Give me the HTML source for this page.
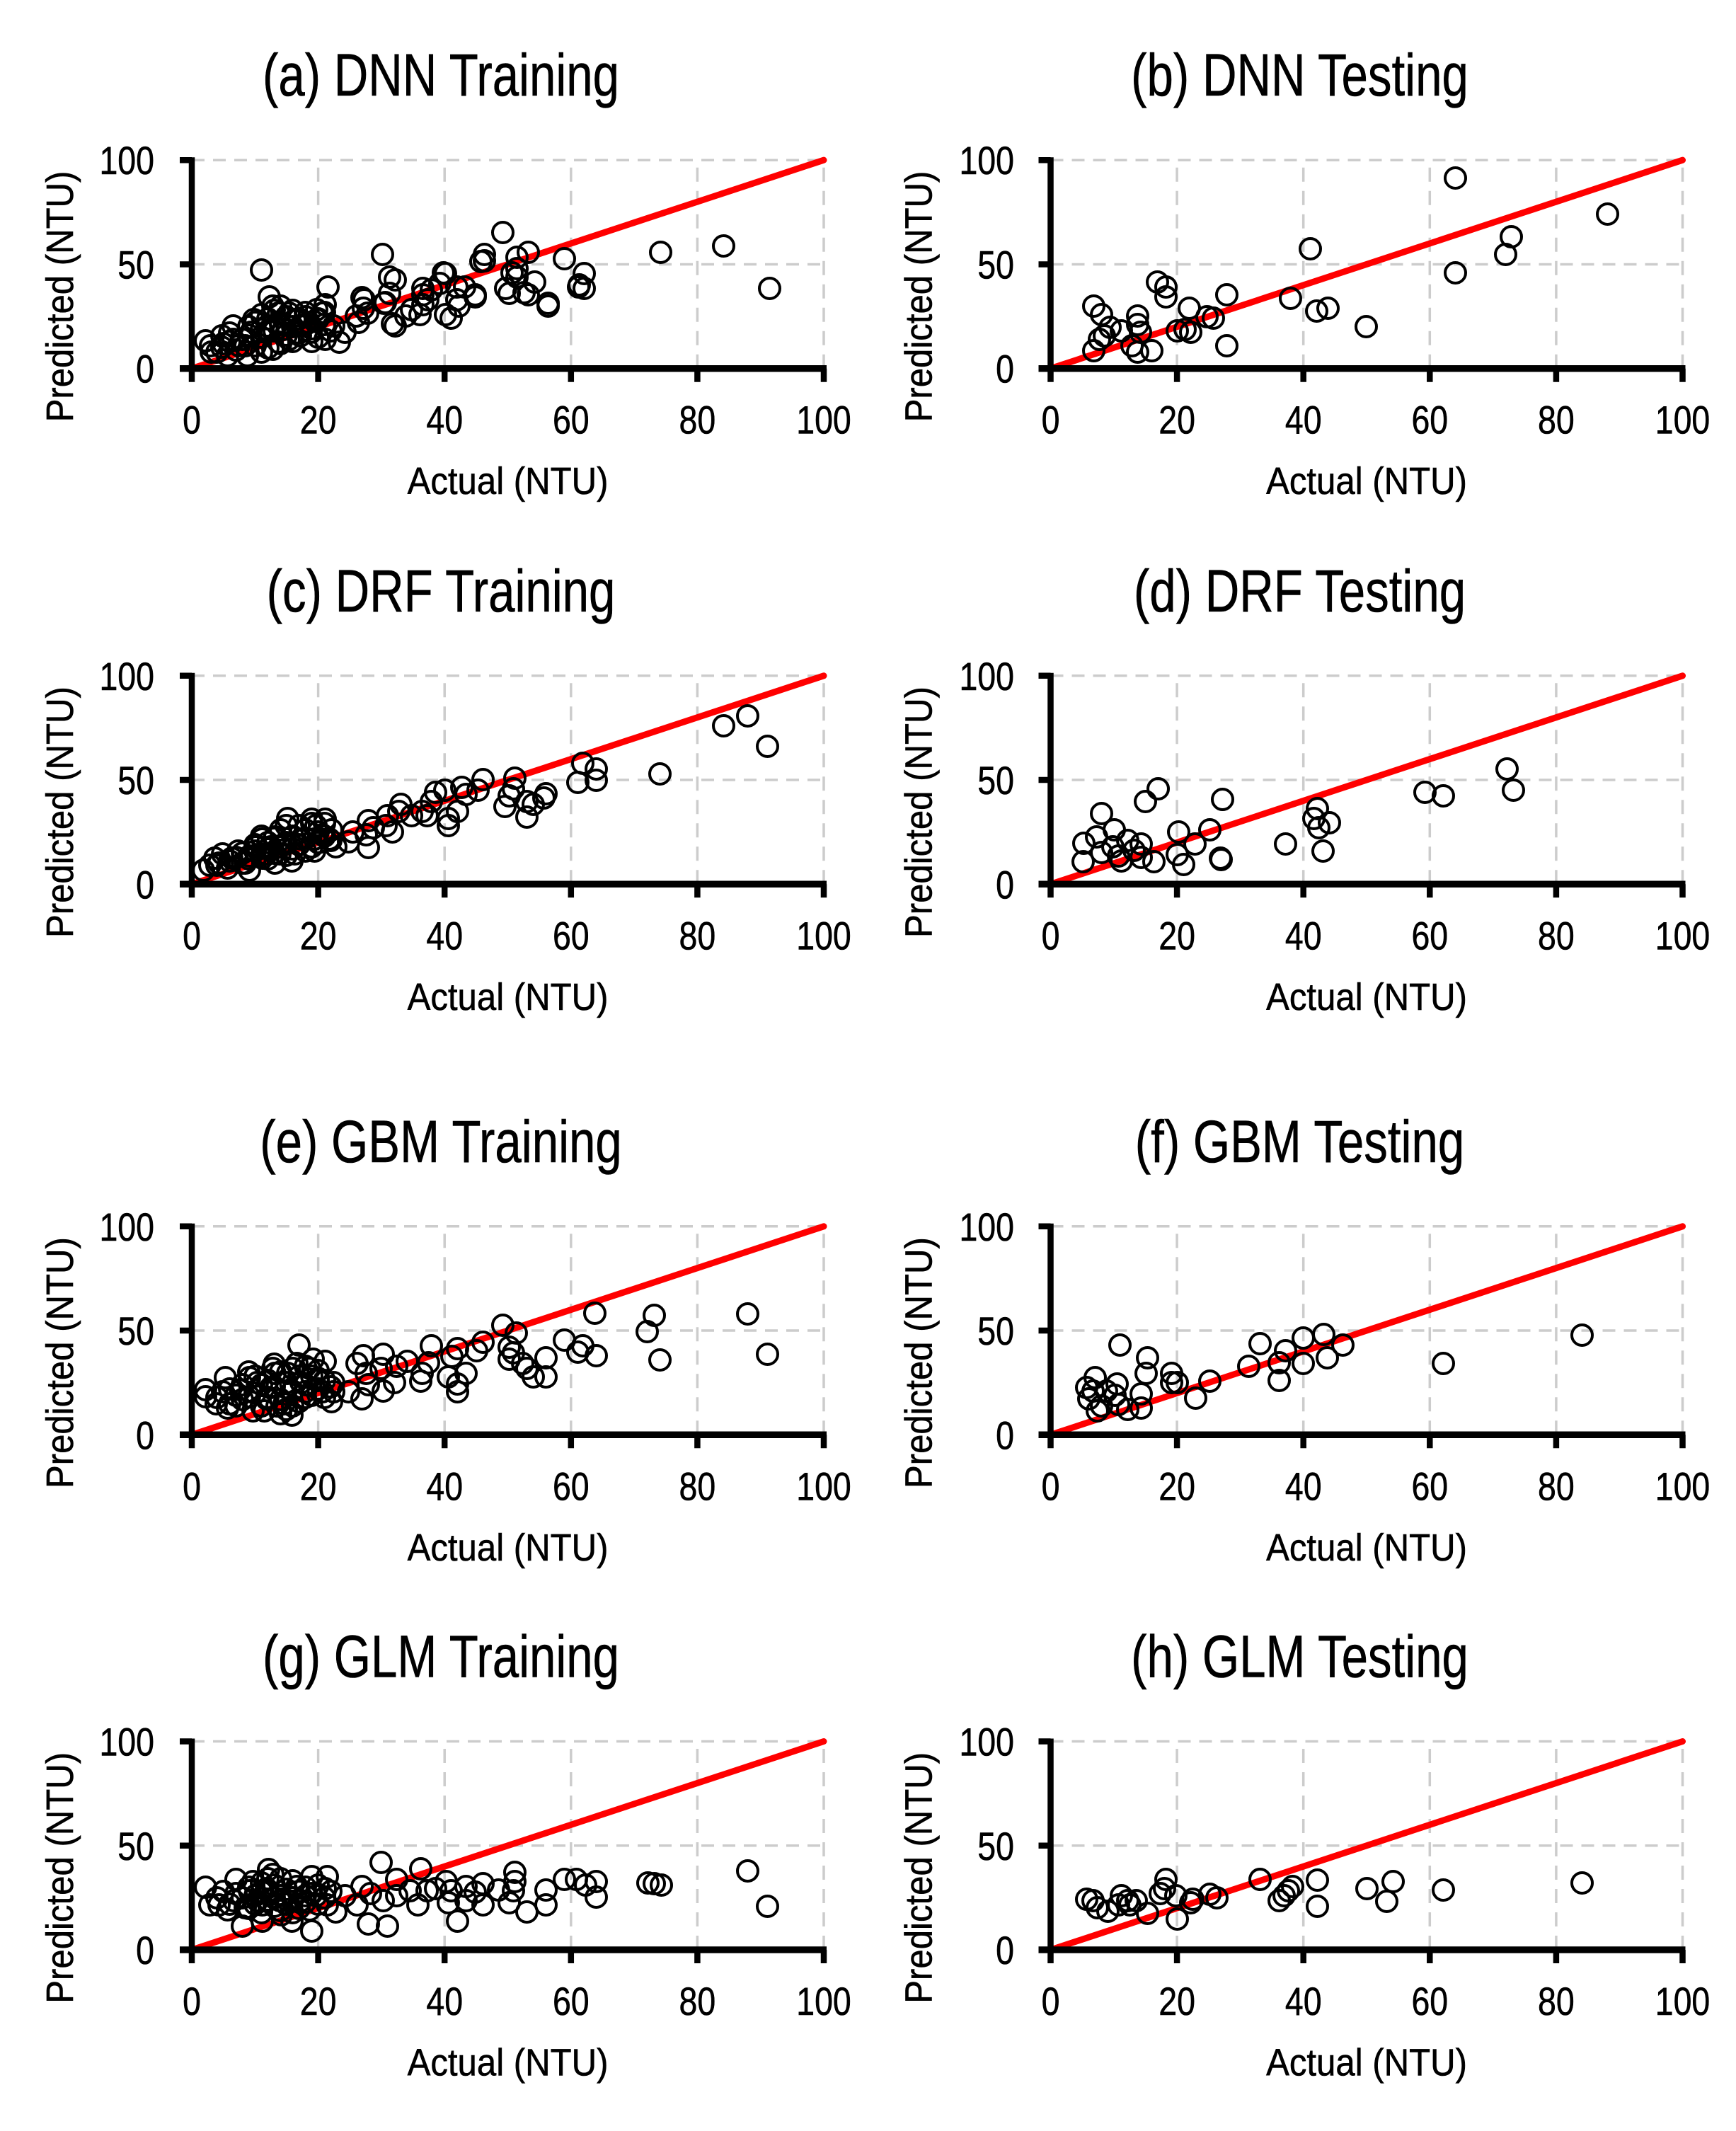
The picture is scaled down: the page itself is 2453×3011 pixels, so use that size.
<!DOCTYPE html>
<html><head><meta charset="utf-8">
<style>
html,body{margin:0;padding:0;background:#fff}
#c{position:relative;width:2453px;height:3011px;overflow:hidden;background:#fff}
svg{position:absolute;left:0;top:0}
text{font-family:"Liberation Sans",Arial,sans-serif;fill:#000;stroke:#000;stroke-width:0.6px}
.tk{font-size:56px}
.ti{font-size:84px}
.lb{font-size:54px}
.p{position:absolute;width:0;height:0}
.p i{position:absolute;display:block;width:33px;height:33px;box-sizing:border-box;border:4.5px solid #000;border-radius:50%;left:calc(var(--x)*8.93px - 16.5px);top:calc(var(--y)*-2.945px - 16.5px)}
</style></head><body><div id="c">
<svg width="2453" height="3011" xmlns="http://www.w3.org/2000/svg">
<defs><g id="ax">
<path d="M0 -294.5H893M0 -147.25H893" stroke="#cccccc" stroke-width="3.5" stroke-dasharray="18 12" fill="none"/>
<path d="M178.6 0V-294.5M357.2 0V-294.5M535.8 0V-294.5M714.4 0V-294.5M893 0V-294.5" stroke="#cccccc" stroke-width="3.5" stroke-dasharray="20 13" fill="none"/>
<path d="M0 0L893 -294.5" stroke="#ff0000" stroke-width="9" stroke-linecap="round"/>
<path d="M0 -298.5V0" stroke="#000" stroke-width="8.5"/>
<path d="M-17 0H897" stroke="#000" stroke-width="9.5"/>
<path d="M-17 -294.5H0M-17 -147.25H0" stroke="#000" stroke-width="8.5"/>
<path d="M0 0V19M178.6 0V19M357.2 0V19M535.8 0V19M714.4 0V19M893 0V19" stroke="#000" stroke-width="8.5"/>
</g></defs>
<use href="#ax" transform="translate(271 520.7)"/>
<use href="#ax" transform="translate(1484.5 520.7)"/>
<use href="#ax" transform="translate(271 1249.3)"/>
<use href="#ax" transform="translate(1484.5 1249.3)"/>
<use href="#ax" transform="translate(271 2027.3)"/>
<use href="#ax" transform="translate(1484.5 2027.3)"/>
<use href="#ax" transform="translate(271 2755)"/>
<use href="#ax" transform="translate(1484.5 2755)"/>

<!-- Titles -->
<text class="ti" text-anchor="middle" transform="translate(623 135.2) scale(.8 1)">(a) DNN Training</text>
<text class="ti" text-anchor="middle" transform="translate(1836.5 135.2) scale(.8 1)">(b) DNN Testing</text>
<text class="ti" text-anchor="middle" transform="translate(623 863.8) scale(.8 1)">(c) DRF Training</text>
<text class="ti" text-anchor="middle" transform="translate(1836.5 863.8) scale(.8 1)">(d) DRF Testing</text>
<text class="ti" text-anchor="middle" transform="translate(623 1641.8) scale(.8 1)">(e) GBM Training</text>
<text class="ti" text-anchor="middle" transform="translate(1836.5 1641.8) scale(.8 1)">(f) GBM Testing</text>
<text class="ti" text-anchor="middle" transform="translate(623 2369.5) scale(.8 1)">(g) GLM Training</text>
<text class="ti" text-anchor="middle" transform="translate(1836.5 2369.5) scale(.8 1)">(h) GLM Testing</text>

<!-- Row 1 -->
<text class="tk" text-anchor="end" transform="translate(218 246.2) scale(.83 1)">100</text>
<text class="tk" text-anchor="end" transform="translate(218 393.5) scale(.83 1)">50</text>
<text class="tk" text-anchor="end" transform="translate(218 540.7) scale(.83 1)">0</text>
<text class="tk" text-anchor="end" transform="translate(1433 246.2) scale(.83 1)">100</text>
<text class="tk" text-anchor="end" transform="translate(1433 393.5) scale(.83 1)">50</text>
<text class="tk" text-anchor="end" transform="translate(1433 540.7) scale(.83 1)">0</text>
<g class="tk" text-anchor="middle">
<text transform="translate(271 612.7) scale(.83 1)">0</text>
<text transform="translate(449.6 612.7) scale(.83 1)">20</text>
<text transform="translate(628.2 612.7) scale(.83 1)">40</text>
<text transform="translate(806.8 612.7) scale(.83 1)">60</text>
<text transform="translate(985.4 612.7) scale(.83 1)">80</text>
<text transform="translate(1164 612.7) scale(.83 1)">100</text>
<text transform="translate(1484.5 612.7) scale(.83 1)">0</text>
<text transform="translate(1663.1 612.7) scale(.83 1)">20</text>
<text transform="translate(1841.7 612.7) scale(.83 1)">40</text>
<text transform="translate(2020.3 612.7) scale(.83 1)">60</text>
<text transform="translate(2198.9 612.7) scale(.83 1)">80</text>
<text transform="translate(2377.5 612.7) scale(.83 1)">100</text>
</g>
<text class="lb" text-anchor="middle" transform="translate(717.5 698.2) scale(.91 1)">Actual (NTU)</text>
<text class="lb" text-anchor="middle" transform="translate(1931 698.2) scale(.91 1)">Actual (NTU)</text>
<text class="lb" text-anchor="middle" transform="translate(103 419) rotate(-90) scale(.91 1)">Predicted (NTU)</text>
<text class="lb" text-anchor="middle" transform="translate(1316.5 419) rotate(-90) scale(.91 1)">Predicted (NTU)</text>

<!-- Row 2 -->
<text class="tk" text-anchor="end" transform="translate(218 974.8) scale(.83 1)">100</text>
<text class="tk" text-anchor="end" transform="translate(218 1122.1) scale(.83 1)">50</text>
<text class="tk" text-anchor="end" transform="translate(218 1269.3) scale(.83 1)">0</text>
<text class="tk" text-anchor="end" transform="translate(1433 974.8) scale(.83 1)">100</text>
<text class="tk" text-anchor="end" transform="translate(1433 1122.1) scale(.83 1)">50</text>
<text class="tk" text-anchor="end" transform="translate(1433 1269.3) scale(.83 1)">0</text>
<g class="tk" text-anchor="middle">
<text transform="translate(271 1341.3) scale(.83 1)">0</text>
<text transform="translate(449.6 1341.3) scale(.83 1)">20</text>
<text transform="translate(628.2 1341.3) scale(.83 1)">40</text>
<text transform="translate(806.8 1341.3) scale(.83 1)">60</text>
<text transform="translate(985.4 1341.3) scale(.83 1)">80</text>
<text transform="translate(1164 1341.3) scale(.83 1)">100</text>
<text transform="translate(1484.5 1341.3) scale(.83 1)">0</text>
<text transform="translate(1663.1 1341.3) scale(.83 1)">20</text>
<text transform="translate(1841.7 1341.3) scale(.83 1)">40</text>
<text transform="translate(2020.3 1341.3) scale(.83 1)">60</text>
<text transform="translate(2198.9 1341.3) scale(.83 1)">80</text>
<text transform="translate(2377.5 1341.3) scale(.83 1)">100</text>
</g>
<text class="lb" text-anchor="middle" transform="translate(717.5 1426.8) scale(.91 1)">Actual (NTU)</text>
<text class="lb" text-anchor="middle" transform="translate(1931 1426.8) scale(.91 1)">Actual (NTU)</text>
<text class="lb" text-anchor="middle" transform="translate(103 1147.6) rotate(-90) scale(.91 1)">Predicted (NTU)</text>
<text class="lb" text-anchor="middle" transform="translate(1316.5 1147.6) rotate(-90) scale(.91 1)">Predicted (NTU)</text>

<!-- Row 3 -->
<text class="tk" text-anchor="end" transform="translate(218 1752.8) scale(.83 1)">100</text>
<text class="tk" text-anchor="end" transform="translate(218 1900.1) scale(.83 1)">50</text>
<text class="tk" text-anchor="end" transform="translate(218 2047.3) scale(.83 1)">0</text>
<text class="tk" text-anchor="end" transform="translate(1433 1752.8) scale(.83 1)">100</text>
<text class="tk" text-anchor="end" transform="translate(1433 1900.1) scale(.83 1)">50</text>
<text class="tk" text-anchor="end" transform="translate(1433 2047.3) scale(.83 1)">0</text>
<g class="tk" text-anchor="middle">
<text transform="translate(271 2119.3) scale(.83 1)">0</text>
<text transform="translate(449.6 2119.3) scale(.83 1)">20</text>
<text transform="translate(628.2 2119.3) scale(.83 1)">40</text>
<text transform="translate(806.8 2119.3) scale(.83 1)">60</text>
<text transform="translate(985.4 2119.3) scale(.83 1)">80</text>
<text transform="translate(1164 2119.3) scale(.83 1)">100</text>
<text transform="translate(1484.5 2119.3) scale(.83 1)">0</text>
<text transform="translate(1663.1 2119.3) scale(.83 1)">20</text>
<text transform="translate(1841.7 2119.3) scale(.83 1)">40</text>
<text transform="translate(2020.3 2119.3) scale(.83 1)">60</text>
<text transform="translate(2198.9 2119.3) scale(.83 1)">80</text>
<text transform="translate(2377.5 2119.3) scale(.83 1)">100</text>
</g>
<text class="lb" text-anchor="middle" transform="translate(717.5 2204.8) scale(.91 1)">Actual (NTU)</text>
<text class="lb" text-anchor="middle" transform="translate(1931 2204.8) scale(.91 1)">Actual (NTU)</text>
<text class="lb" text-anchor="middle" transform="translate(103 1925.6) rotate(-90) scale(.91 1)">Predicted (NTU)</text>
<text class="lb" text-anchor="middle" transform="translate(1316.5 1925.6) rotate(-90) scale(.91 1)">Predicted (NTU)</text>

<!-- Row 4 -->
<text class="tk" text-anchor="end" transform="translate(218 2480.5) scale(.83 1)">100</text>
<text class="tk" text-anchor="end" transform="translate(218 2627.8) scale(.83 1)">50</text>
<text class="tk" text-anchor="end" transform="translate(218 2775) scale(.83 1)">0</text>
<text class="tk" text-anchor="end" transform="translate(1433 2480.5) scale(.83 1)">100</text>
<text class="tk" text-anchor="end" transform="translate(1433 2627.8) scale(.83 1)">50</text>
<text class="tk" text-anchor="end" transform="translate(1433 2775) scale(.83 1)">0</text>
<g class="tk" text-anchor="middle">
<text transform="translate(271 2847) scale(.83 1)">0</text>
<text transform="translate(449.6 2847) scale(.83 1)">20</text>
<text transform="translate(628.2 2847) scale(.83 1)">40</text>
<text transform="translate(806.8 2847) scale(.83 1)">60</text>
<text transform="translate(985.4 2847) scale(.83 1)">80</text>
<text transform="translate(1164 2847) scale(.83 1)">100</text>
<text transform="translate(1484.5 2847) scale(.83 1)">0</text>
<text transform="translate(1663.1 2847) scale(.83 1)">20</text>
<text transform="translate(1841.7 2847) scale(.83 1)">40</text>
<text transform="translate(2020.3 2847) scale(.83 1)">60</text>
<text transform="translate(2198.9 2847) scale(.83 1)">80</text>
<text transform="translate(2377.5 2847) scale(.83 1)">100</text>
</g>
<text class="lb" text-anchor="middle" transform="translate(717.5 2932.5) scale(.91 1)">Actual (NTU)</text>
<text class="lb" text-anchor="middle" transform="translate(1931 2932.5) scale(.91 1)">Actual (NTU)</text>
<text class="lb" text-anchor="middle" transform="translate(103 2653.3) rotate(-90) scale(.91 1)">Predicted (NTU)</text>
<text class="lb" text-anchor="middle" transform="translate(1316.5 2653.3) rotate(-90) scale(.91 1)">Predicted (NTU)</text>
</svg>

<!-- (a) DNN Training -->
<div class="p" style="left:271px;top:520.7px">
<i style="--x:91.4;--y:38.5"></i><i style="--x:84.1;--y:58.9"></i><i style="--x:74.2;--y:55.7"></i><i style="--x:59.0;--y:52.6"></i><i style="--x:62.1;--y:45.5"></i><i style="--x:61.2;--y:39.2"></i><i style="--x:62.1;--y:38.5"></i><i style="--x:56.4;--y:31.4"></i><i style="--x:56.4;--y:29.8"></i><i style="--x:53.3;--y:55.7"></i><i style="--x:51.5;--y:53.4"></i><i style="--x:51.5;--y:47.9"></i><i style="--x:51.5;--y:44.0"></i><i style="--x:54.2;--y:41.6"></i><i style="--x:50.2;--y:36.1"></i><i style="--x:53.3;--y:35.3"></i><i style="--x:49.2;--y:65.1"></i><i style="--x:46.3;--y:54.9"></i><i style="--x:46.3;--y:51.8"></i><i style="--x:44.9;--y:34.5"></i><i style="--x:43.2;--y:39.2"></i><i style="--x:42.3;--y:29.8"></i><i style="--x:41.0;--y:24.3"></i><i style="--x:40.1;--y:45.5"></i><i style="--x:39.3;--y:40.8"></i><i style="--x:37.9;--y:37.7"></i><i style="--x:36.6;--y:35.3"></i><i style="--x:36.6;--y:30.6"></i><i style="--x:36.1;--y:25.9"></i><i style="--x:33.9;--y:25.1"></i><i style="--x:31.3;--y:36.1"></i><i style="--x:32.2;--y:42.4"></i><i style="--x:31.3;--y:44.0"></i><i style="--x:30.2;--y:54.9"></i><i style="--x:32.2;--y:20.4"></i><i style="--x:30.4;--y:31.4"></i><i style="--x:27.3;--y:33.0"></i><i style="--x:27.8;--y:26.7"></i><i style="--x:26.4;--y:22.0"></i><i style="--x:24.2;--y:17.3"></i><i style="--x:21.6;--y:39.2"></i><i style="--x:21.1;--y:30.6"></i><i style="--x:19.8;--y:28.3"></i><i style="--x:19.8;--y:23.5"></i><i style="--x:21.1;--y:14.1"></i><i style="--x:23.3;--y:12.6"></i><i style="--x:22.5;--y:20.4"></i><i style="--x:17.2;--y:20.4"></i><i style="--x:15.4;--y:26.7"></i><i style="--x:13.7;--y:26.7"></i><i style="--x:12.8;--y:29.8"></i><i style="--x:12.3;--y:34.5"></i><i style="--x:11.0;--y:47.1"></i><i style="--x:11.9;--y:20.4"></i><i style="--x:9.8;--y:23.5"></i><i style="--x:9.3;--y:17.3"></i><i style="--x:8.4;--y:11.0"></i><i style="--x:6.6;--y:20.4"></i><i style="--x:6.6;--y:14.1"></i><i style="--x:4.8;--y:15.7"></i><i style="--x:2.2;--y:13.3"></i><i style="--x:3.1;--y:7.8"></i><i style="--x:5.7;--y:6.3"></i><i style="--x:8.8;--y:6.3"></i><i style="--x:11.0;--y:7.8"></i><i style="--x:13.7;--y:12.6"></i><i style="--x:15.4;--y:14.1"></i><i style="--x:17.2;--y:15.7"></i><i style="--x:18.5;--y:22.0"></i><i style="--x:14.5;--y:18.8"></i><i style="--x:11.0;--y:18.8"></i><i style="--x:7.5;--y:11.0"></i><i style="--x:4.8;--y:10.2"></i><i style="--x:12.8;--y:9.4"></i><i style="--x:16.3;--y:23.5"></i><i style="--x:18.9;--y:17.3"></i><i style="--x:20.7;--y:26.7"></i><i style="--x:26.0;--y:25.1"></i><i style="--x:34.8;--y:28.3"></i><i style="--x:37.4;--y:33.0"></i><i style="--x:41.9;--y:33.0"></i><i style="--x:41.9;--y:39.2"></i>
<i style="--x:36.6;--y:38.4"></i><i style="--x:31.8;--y:21.5"></i><i style="--x:26.9;--y:34.0"></i><i style="--x:27.1;--y:29.0"></i><i style="--x:30.6;--y:31.5"></i><i style="--x:39.8;--y:45.9"></i><i style="--x:44.8;--y:35.3"></i><i style="--x:40.2;--y:25.9"></i><i style="--x:52.6;--y:36.5"></i><i style="--x:50.7;--y:45.9"></i><i style="--x:49.7;--y:38.4"></i><i style="--x:61.3;--y:40.3"></i><i style="--x:45.8;--y:51.5"></i>
<i style="--x:5;--y:12"></i><i style="--x:6;--y:17"></i><i style="--x:7;--y:9"></i><i style="--x:8;--y:14"></i><i style="--x:9;--y:20"></i><i style="--x:10;--y:11"></i><i style="--x:10;--y:22"></i><i style="--x:11;--y:15"></i><i style="--x:12;--y:24"></i><i style="--x:12;--y:10"></i><i style="--x:13;--y:18"></i><i style="--x:13;--y:28"></i><i style="--x:14;--y:12"></i><i style="--x:14;--y:21"></i><i style="--x:15;--y:16"></i><i style="--x:15;--y:25"></i><i style="--x:16;--y:20"></i><i style="--x:16;--y:13"></i><i style="--x:17;--y:24"></i><i style="--x:17;--y:17"></i><i style="--x:18;--y:21"></i><i style="--x:18;--y:27"></i><i style="--x:19;--y:19"></i><i style="--x:20;--y:24"></i><i style="--x:20;--y:15"></i><i style="--x:21;--y:21"></i><i style="--x:22;--y:18"></i><i style="--x:19;--y:13"></i><i style="--x:11;--y:26"></i><i style="--x:9;--y:16"></i><i style="--x:6;--y:13"></i><i style="--x:4;--y:8"></i><i style="--x:3;--y:11"></i><i style="--x:16;--y:28"></i><i style="--x:14;--y:30"></i><i style="--x:18;--y:25"></i><i style="--x:21;--y:27"></i><i style="--x:12;--y:18"></i>
</div>

<!-- (b) DNN Testing -->
<div class="p" style="left:1484.5px;top:520.7px">
<i style="--x:64.1;--y:91.4"></i><i style="--x:88.1;--y:74.1"></i><i style="--x:72.9;--y:63.1"></i><i style="--x:72.0;--y:54.9"></i><i style="--x:64.1;--y:45.8"></i><i style="--x:41.1;--y:57.3"></i><i style="--x:38.0;--y:33.8"></i><i style="--x:42.1;--y:27.5"></i><i style="--x:43.9;--y:29.0"></i><i style="--x:49.9;--y:20.1"></i><i style="--x:27.9;--y:35.3"></i><i style="--x:27.9;--y:11.0"></i><i style="--x:25.7;--y:24.3"></i><i style="--x:24.8;--y:24.8"></i><i style="--x:21.9;--y:29.0"></i><i style="--x:22.2;--y:17.3"></i><i style="--x:21.3;--y:18.8"></i><i style="--x:20.0;--y:18.1"></i><i style="--x:16.9;--y:41.6"></i><i style="--x:18.2;--y:39.2"></i><i style="--x:18.2;--y:34.5"></i><i style="--x:13.8;--y:25.1"></i><i style="--x:13.8;--y:21.2"></i><i style="--x:13.8;--y:7.8"></i><i style="--x:14.2;--y:17.3"></i><i style="--x:12.9;--y:11.0"></i><i style="--x:16.0;--y:8.6"></i><i style="--x:11.2;--y:18.1"></i><i style="--x:9.4;--y:19.6"></i><i style="--x:8.5;--y:15.7"></i><i style="--x:7.7;--y:14.1"></i><i style="--x:6.8;--y:29.8"></i><i style="--x:8.1;--y:25.9"></i><i style="--x:6.8;--y:8.6"></i>
</div>

<!-- (c) DRF Training -->
<div class="p" style="left:271px;top:1249.3px">
<i style="--x:84.1;--y:75.9"></i><i style="--x:88.0;--y:80.8"></i><i style="--x:91.1;--y:66.3"></i><i style="--x:74.1;--y:52.9"></i><i style="--x:61.9;--y:57.9"></i><i style="--x:64.0;--y:55.4"></i><i style="--x:64.0;--y:49.9"></i><i style="--x:61.1;--y:48.8"></i><i style="--x:46.1;--y:50.3"></i><i style="--x:45.3;--y:45.0"></i><i style="--x:51.1;--y:50.8"></i><i style="--x:50.9;--y:45.8"></i><i style="--x:50.2;--y:42.4"></i><i style="--x:49.5;--y:37.3"></i><i style="--x:53.0;--y:39.5"></i><i style="--x:53.0;--y:32.2"></i><i style="--x:56.1;--y:43.5"></i><i style="--x:55.7;--y:41.2"></i><i style="--x:54.0;--y:38.4"></i><i style="--x:42.7;--y:46.3"></i><i style="--x:43.4;--y:42.9"></i><i style="--x:40.0;--y:45.2"></i><i style="--x:38.6;--y:44.1"></i><i style="--x:37.9;--y:39.5"></i><i style="--x:36.5;--y:35.0"></i><i style="--x:37.2;--y:32.8"></i><i style="--x:40.6;--y:31.6"></i><i style="--x:42.0;--y:35.0"></i><i style="--x:40.6;--y:28.2"></i><i style="--x:34.8;--y:32.8"></i><i style="--x:33.1;--y:38.4"></i><i style="--x:32.7;--y:35.0"></i><i style="--x:31.0;--y:32.8"></i><i style="--x:30.7;--y:28.2"></i><i style="--x:31.7;--y:24.9"></i><i style="--x:28.7;--y:27.1"></i><i style="--x:27.9;--y:30.5"></i><i style="--x:27.6;--y:23.7"></i><i style="--x:27.9;--y:17.5"></i><i style="--x:25.5;--y:24.9"></i><i style="--x:24.8;--y:20.3"></i><i style="--x:15.2;--y:31.6"></i><i style="--x:14.9;--y:28.2"></i><i style="--x:19.0;--y:31.1"></i><i style="--x:21.1;--y:31.1"></i><i style="--x:19.7;--y:28.2"></i><i style="--x:22.1;--y:26.0"></i><i style="--x:21.8;--y:21.5"></i><i style="--x:19.4;--y:21.5"></i><i style="--x:19.4;--y:15.8"></i><i style="--x:22.8;--y:18.1"></i><i style="--x:16.3;--y:14.7"></i><i style="--x:15.9;--y:11.3"></i><i style="--x:17.3;--y:21.5"></i><i style="--x:13.2;--y:22.6"></i><i style="--x:12.5;--y:18.1"></i><i style="--x:11.8;--y:14.7"></i><i style="--x:11.1;--y:21.5"></i><i style="--x:10.1;--y:18.1"></i><i style="--x:9.1;--y:13.6"></i><i style="--x:8.4;--y:10.2"></i><i style="--x:7.3;--y:15.8"></i><i style="--x:6.3;--y:12.4"></i><i style="--x:5.6;--y:7.9"></i><i style="--x:4.9;--y:14.7"></i><i style="--x:4.3;--y:10.2"></i><i style="--x:2.9;--y:9.0"></i><i style="--x:1.9;--y:6.8"></i><i style="--x:3.6;--y:12.4"></i><i style="--x:13.9;--y:14.7"></i><i style="--x:14.6;--y:19.2"></i><i style="--x:18.0;--y:26.0"></i><i style="--x:20.7;--y:23.7"></i><i style="--x:11.1;--y:12.4"></i><i style="--x:13.2;--y:10.2"></i><i style="--x:9.1;--y:6.8"></i>
<i style="--x:4;--y:9"></i><i style="--x:6;--y:11"></i><i style="--x:7;--y:13"></i><i style="--x:8;--y:15"></i><i style="--x:9;--y:12"></i><i style="--x:10;--y:16"></i><i style="--x:11;--y:14"></i><i style="--x:12;--y:17"></i><i style="--x:12;--y:20"></i><i style="--x:13;--y:15"></i><i style="--x:14;--y:18"></i><i style="--x:15;--y:20"></i><i style="--x:16;--y:17"></i><i style="--x:16;--y:23"></i><i style="--x:17;--y:19"></i><i style="--x:18;--y:22"></i><i style="--x:19;--y:18"></i><i style="--x:20;--y:20"></i><i style="--x:20;--y:25"></i><i style="--x:21;--y:23"></i><i style="--x:22;--y:21"></i><i style="--x:13;--y:22"></i><i style="--x:10;--y:19"></i><i style="--x:15;--y:14"></i><i style="--x:18;--y:16"></i><i style="--x:8;--y:10"></i><i style="--x:14;--y:26"></i><i style="--x:17;--y:28"></i><i style="--x:19;--y:29"></i><i style="--x:21;--y:29"></i><i style="--x:12;--y:12"></i><i style="--x:11;--y:23"></i>
</div>

<!-- (d) DRF Testing -->
<div class="p" style="left:1484.5px;top:1249.3px">
<i style="--x:5.2;--y:10.7"></i><i style="--x:5.3;--y:19.8"></i><i style="--x:7.3;--y:22.6"></i><i style="--x:8.1;--y:33.9"></i><i style="--x:8.1;--y:15.3"></i><i style="--x:10.1;--y:26.0"></i><i style="--x:9.8;--y:18.1"></i><i style="--x:10.8;--y:13.6"></i><i style="--x:11.2;--y:11.3"></i><i style="--x:12.2;--y:20.9"></i><i style="--x:13.2;--y:16.4"></i><i style="--x:14.3;--y:19.2"></i><i style="--x:14.3;--y:13.0"></i><i style="--x:15.0;--y:39.5"></i><i style="--x:17.0;--y:45.8"></i><i style="--x:16.3;--y:10.7"></i><i style="--x:20.3;--y:24.9"></i><i style="--x:20.1;--y:14.1"></i><i style="--x:21.1;--y:9.6"></i><i style="--x:22.8;--y:19.2"></i><i style="--x:25.2;--y:26.0"></i><i style="--x:26.9;--y:12.4"></i><i style="--x:27.2;--y:40.7"></i><i style="--x:27.0;--y:11.8"></i><i style="--x:37.2;--y:19.2"></i><i style="--x:41.7;--y:31.6"></i><i style="--x:42.2;--y:36.2"></i><i style="--x:42.4;--y:27.1"></i><i style="--x:44.1;--y:29.4"></i><i style="--x:43.1;--y:15.8"></i><i style="--x:59.2;--y:44.1"></i><i style="--x:62.1;--y:42.4"></i><i style="--x:72.2;--y:55.4"></i><i style="--x:73.2;--y:45.2"></i>
</div>

<!-- (e) GBM Training -->
<div class="p" style="left:271px;top:2027.3px">
<i style="--x:88.0;--y:57.9"></i><i style="--x:91.1;--y:38.6"></i><i style="--x:73.2;--y:57.3"></i><i style="--x:72.1;--y:49.4"></i><i style="--x:74.1;--y:35.8"></i><i style="--x:63.8;--y:58.4"></i><i style="--x:64.0;--y:38.1"></i><i style="--x:61.9;--y:42.6"></i><i style="--x:61.1;--y:39.8"></i><i style="--x:59.0;--y:45.4"></i><i style="--x:56.1;--y:36.9"></i><i style="--x:56.1;--y:27.9"></i><i style="--x:54.0;--y:27.9"></i><i style="--x:53.0;--y:31.9"></i><i style="--x:51.3;--y:48.8"></i><i style="--x:49.2;--y:52.4"></i><i style="--x:50.2;--y:42.0"></i><i style="--x:50.9;--y:39.2"></i><i style="--x:50.2;--y:36.4"></i><i style="--x:52.3;--y:34.1"></i><i style="--x:46.1;--y:44.3"></i><i style="--x:45.1;--y:40.3"></i><i style="--x:42.0;--y:41.5"></i><i style="--x:41.2;--y:37.5"></i><i style="--x:43.4;--y:29.6"></i><i style="--x:40.6;--y:27.9"></i><i style="--x:42.0;--y:24.5"></i><i style="--x:42.0;--y:20.6"></i><i style="--x:37.9;--y:42.6"></i><i style="--x:37.5;--y:34.7"></i><i style="--x:36.5;--y:29.6"></i><i style="--x:36.2;--y:25.6"></i><i style="--x:34.1;--y:35.3"></i><i style="--x:32.4;--y:33.0"></i><i style="--x:32.1;--y:25.1"></i><i style="--x:30.3;--y:38.6"></i><i style="--x:30.0;--y:31.9"></i><i style="--x:30.3;--y:21.1"></i><i style="--x:27.2;--y:38.1"></i><i style="--x:26.2;--y:34.1"></i><i style="--x:27.6;--y:29.6"></i><i style="--x:27.9;--y:24.0"></i><i style="--x:26.9;--y:17.2"></i><i style="--x:24.8;--y:20.6"></i><i style="--x:22.4;--y:20.6"></i><i style="--x:22.1;--y:16.0"></i><i style="--x:21.1;--y:35.3"></i><i style="--x:19.2;--y:36.4"></i><i style="--x:18.7;--y:31.9"></i><i style="--x:20.0;--y:26.2"></i><i style="--x:18.0;--y:20.6"></i><i style="--x:17.0;--y:43.2"></i><i style="--x:16.6;--y:34.1"></i><i style="--x:15.2;--y:29.6"></i><i style="--x:15.9;--y:20.6"></i><i style="--x:15.9;--y:9.3"></i><i style="--x:14.6;--y:14.9"></i><i style="--x:13.2;--y:29.6"></i><i style="--x:12.5;--y:22.8"></i><i style="--x:11.8;--y:17.2"></i><i style="--x:10.4;--y:25.1"></i><i style="--x:9.1;--y:27.3"></i><i style="--x:9.1;--y:18.3"></i><i style="--x:9.7;--y:11.5"></i><i style="--x:7.7;--y:21.7"></i><i style="--x:7.0;--y:13.8"></i><i style="--x:5.3;--y:27.3"></i><i style="--x:4.9;--y:20.6"></i><i style="--x:5.6;--y:12.7"></i><i style="--x:3.9;--y:14.9"></i><i style="--x:2.2;--y:21.7"></i><i style="--x:2.2;--y:18.3"></i><i style="--x:11.5;--y:11.5"></i><i style="--x:13.5;--y:13.8"></i><i style="--x:17.3;--y:25.1"></i><i style="--x:20.7;--y:20.6"></i><i style="--x:22.4;--y:25.1"></i><i style="--x:12.8;--y:31.9"></i>
<i style="--x:4;--y:18"></i><i style="--x:6;--y:22"></i><i style="--x:6;--y:15"></i><i style="--x:8;--y:24"></i><i style="--x:8;--y:17"></i><i style="--x:10;--y:20"></i><i style="--x:10;--y:28"></i><i style="--x:11;--y:14"></i><i style="--x:12;--y:26"></i><i style="--x:12;--y:18"></i><i style="--x:13;--y:23"></i><i style="--x:14;--y:30"></i><i style="--x:14;--y:17"></i><i style="--x:15;--y:25"></i><i style="--x:15;--y:12"></i><i style="--x:16;--y:21"></i><i style="--x:17;--y:28"></i><i style="--x:17;--y:16"></i><i style="--x:18;--y:24"></i><i style="--x:18;--y:33"></i><i style="--x:19;--y:19"></i><i style="--x:19;--y:28"></i><i style="--x:20;--y:22"></i><i style="--x:20;--y:31"></i><i style="--x:21;--y:26"></i><i style="--x:21;--y:18"></i><i style="--x:22;--y:23"></i><i style="--x:13;--y:34"></i><i style="--x:16;--y:32"></i><i style="--x:9;--y:30"></i><i style="--x:7;--y:19"></i><i style="--x:11;--y:24"></i><i style="--x:16;--y:14"></i><i style="--x:14;--y:10"></i><i style="--x:18;--y:18"></i><i style="--x:20;--y:27"></i>
</div>

<!-- (f) GBM Testing -->
<div class="p" style="left:1484.5px;top:2027.3px">
<i style="--x:84.1;--y:47.9"></i><i style="--x:62.1;--y:34.1"></i><i style="--x:46.2;--y:43.2"></i><i style="--x:43.2;--y:48.2"></i><i style="--x:43.8;--y:37.1"></i><i style="--x:40.0;--y:46.6"></i><i style="--x:40.0;--y:34.1"></i><i style="--x:37.2;--y:40.3"></i><i style="--x:36.2;--y:34.7"></i><i style="--x:36.2;--y:26.2"></i><i style="--x:33.1;--y:43.7"></i><i style="--x:31.3;--y:33.0"></i><i style="--x:25.2;--y:25.6"></i><i style="--x:23.0;--y:17.7"></i><i style="--x:20.1;--y:24.9"></i><i style="--x:19.1;--y:29.4"></i><i style="--x:19.1;--y:24.9"></i><i style="--x:15.3;--y:36.9"></i><i style="--x:15.1;--y:29.6"></i><i style="--x:14.3;--y:19.8"></i><i style="--x:14.3;--y:12.7"></i><i style="--x:12.2;--y:12.1"></i><i style="--x:11.0;--y:43.2"></i><i style="--x:10.5;--y:24.3"></i><i style="--x:10.2;--y:18.9"></i><i style="--x:10.7;--y:14.4"></i><i style="--x:8.8;--y:20.9"></i><i style="--x:7.1;--y:27.3"></i><i style="--x:6.7;--y:20.9"></i><i style="--x:7.4;--y:11.5"></i><i style="--x:5.7;--y:22.6"></i><i style="--x:6.0;--y:17.2"></i><i style="--x:8.1;--y:13.8"></i>
</div>

<!-- (g) GLM Training -->
<div class="p" style="left:271px;top:2755px">
<i style="--x:88.0;--y:37.9"></i><i style="--x:91.1;--y:20.9"></i><i style="--x:72.2;--y:32.2"></i><i style="--x:73.2;--y:31.6"></i><i style="--x:74.3;--y:31.1"></i><i style="--x:64.0;--y:32.8"></i><i style="--x:64.0;--y:25.4"></i><i style="--x:62.3;--y:31.1"></i><i style="--x:60.9;--y:33.9"></i><i style="--x:59.0;--y:33.9"></i><i style="--x:56.1;--y:28.8"></i><i style="--x:56.1;--y:21.5"></i><i style="--x:53.0;--y:18.1"></i><i style="--x:51.1;--y:37.3"></i><i style="--x:51.1;--y:32.8"></i><i style="--x:50.9;--y:28.2"></i><i style="--x:50.2;--y:22.6"></i><i style="--x:48.5;--y:28.8"></i><i style="--x:46.1;--y:31.6"></i><i style="--x:46.1;--y:21.5"></i><i style="--x:44.8;--y:27.7"></i><i style="--x:43.4;--y:30.5"></i><i style="--x:43.4;--y:23.7"></i><i style="--x:42.0;--y:13.6"></i><i style="--x:41.0;--y:28.2"></i><i style="--x:40.3;--y:32.8"></i><i style="--x:40.6;--y:22.6"></i><i style="--x:38.6;--y:29.4"></i><i style="--x:37.2;--y:28.2"></i><i style="--x:36.2;--y:39.0"></i><i style="--x:35.8;--y:21.5"></i><i style="--x:34.5;--y:28.2"></i><i style="--x:32.4;--y:33.9"></i><i style="--x:32.4;--y:26.0"></i><i style="--x:31.0;--y:11.3"></i><i style="--x:30.0;--y:41.8"></i><i style="--x:30.3;--y:23.7"></i><i style="--x:28.3;--y:27.1"></i><i style="--x:27.9;--y:12.4"></i><i style="--x:26.9;--y:30.5"></i><i style="--x:26.2;--y:21.5"></i><i style="--x:24.2;--y:26.0"></i><i style="--x:22.8;--y:18.1"></i><i style="--x:21.4;--y:35.0"></i><i style="--x:21.1;--y:29.4"></i><i style="--x:19.0;--y:35.0"></i><i style="--x:19.0;--y:9.0"></i><i style="--x:19.7;--y:26.0"></i><i style="--x:18.7;--y:19.2"></i><i style="--x:16.6;--y:30.5"></i><i style="--x:15.9;--y:13.6"></i><i style="--x:15.2;--y:23.7"></i><i style="--x:14.2;--y:16.9"></i><i style="--x:12.8;--y:36.2"></i><i style="--x:12.1;--y:38.4"></i><i style="--x:11.8;--y:29.4"></i><i style="--x:11.1;--y:13.6"></i><i style="--x:10.4;--y:23.7"></i><i style="--x:9.1;--y:28.2"></i><i style="--x:9.7;--y:32.8"></i><i style="--x:8.0;--y:11.3"></i><i style="--x:7.0;--y:33.9"></i><i style="--x:6.7;--y:23.7"></i><i style="--x:5.6;--y:19.2"></i><i style="--x:4.3;--y:21.5"></i><i style="--x:2.2;--y:29.9"></i><i style="--x:2.9;--y:21.5"></i><i style="--x:8.4;--y:20.3"></i><i style="--x:13.9;--y:23.7"></i><i style="--x:11.1;--y:21.5"></i><i style="--x:17.3;--y:23.7"></i><i style="--x:21.4;--y:21.5"></i>
<i style="--x:4;--y:25"></i><i style="--x:5;--y:28"></i><i style="--x:6;--y:22"></i><i style="--x:7;--y:27"></i><i style="--x:8;--y:25"></i><i style="--x:9;--y:20"></i><i style="--x:9;--y:30"></i><i style="--x:10;--y:26"></i><i style="--x:11;--y:18"></i><i style="--x:11;--y:32"></i><i style="--x:12;--y:24"></i><i style="--x:12;--y:28"></i><i style="--x:13;--y:21"></i><i style="--x:13;--y:31"></i><i style="--x:14;--y:26"></i><i style="--x:14;--y:19"></i><i style="--x:15;--y:29"></i><i style="--x:15;--y:22"></i><i style="--x:16;--y:25"></i><i style="--x:16;--y:33"></i><i style="--x:17;--y:20"></i><i style="--x:17;--y:28"></i><i style="--x:18;--y:23"></i><i style="--x:18;--y:30"></i><i style="--x:19;--y:27"></i><i style="--x:20;--y:22"></i><i style="--x:20;--y:31"></i><i style="--x:21;--y:25"></i><i style="--x:22;--y:28"></i><i style="--x:10;--y:22"></i><i style="--x:12;--y:34"></i><i style="--x:14;--y:34"></i><i style="--x:16;--y:18"></i><i style="--x:18;--y:26"></i><i style="--x:13;--y:25"></i><i style="--x:11;--y:28"></i>
</div>

<!-- (h) GLM Testing -->
<div class="p" style="left:1484.5px;top:2755px">
<i style="--x:84.1;--y:32.2"></i><i style="--x:62.1;--y:28.8"></i><i style="--x:54.2;--y:32.8"></i><i style="--x:53.2;--y:23.2"></i><i style="--x:50.1;--y:29.4"></i><i style="--x:42.2;--y:33.3"></i><i style="--x:42.2;--y:20.9"></i><i style="--x:38.3;--y:30.5"></i><i style="--x:37.6;--y:28.2"></i><i style="--x:36.9;--y:26.0"></i><i style="--x:36.2;--y:23.7"></i><i style="--x:33.1;--y:33.9"></i><i style="--x:26.3;--y:24.9"></i><i style="--x:25.2;--y:26.6"></i><i style="--x:22.5;--y:24.3"></i><i style="--x:22.2;--y:22.6"></i><i style="--x:20.1;--y:14.7"></i><i style="--x:19.8;--y:26.0"></i><i style="--x:18.2;--y:33.9"></i><i style="--x:18.0;--y:29.4"></i><i style="--x:17.4;--y:27.1"></i><i style="--x:15.3;--y:17.5"></i><i style="--x:13.6;--y:23.7"></i><i style="--x:12.5;--y:21.5"></i><i style="--x:11.2;--y:26.0"></i><i style="--x:10.8;--y:21.5"></i><i style="--x:9.1;--y:18.6"></i><i style="--x:7.4;--y:20.3"></i><i style="--x:6.7;--y:23.7"></i><i style="--x:5.7;--y:24.3"></i><i style="--x:12.2;--y:23.7"></i>
</div>

</div></body></html>
